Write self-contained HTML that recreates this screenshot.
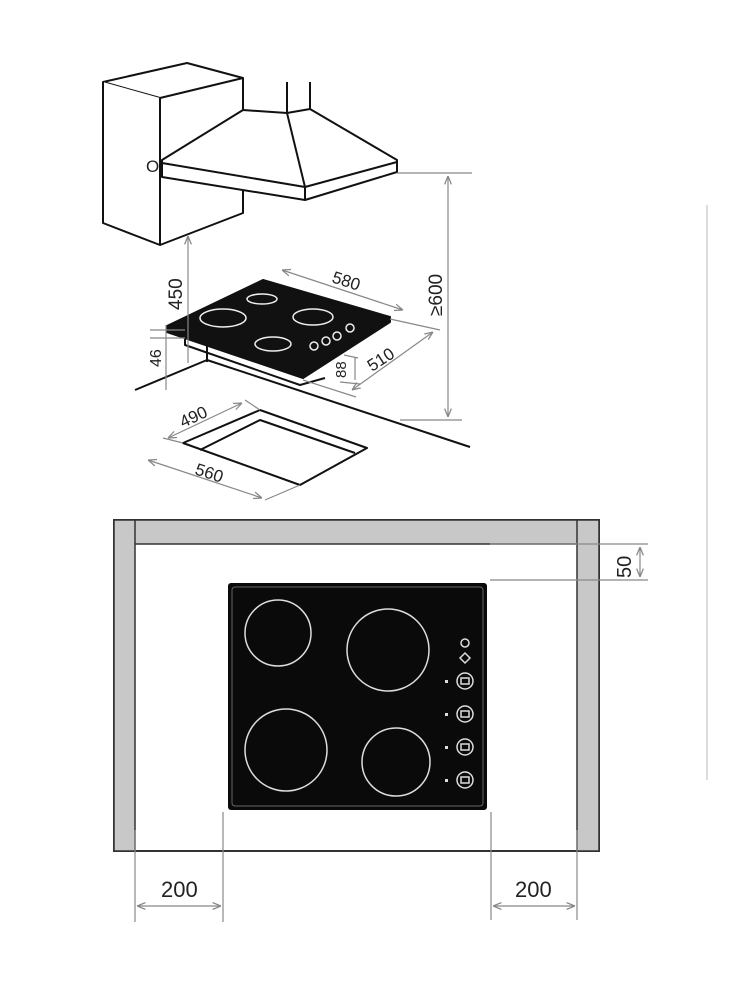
<!DOCTYPE html>
<html><head><style>html,body{margin:0;padding:0;background:#fff}svg{display:block}text{font-family:"Liberation Sans",sans-serif;fill:#222}</style></head>
<body>
<svg width="750" height="1000" viewBox="0 0 750 1000" xmlns="http://www.w3.org/2000/svg">
<defs>
<marker id="a" viewBox="0 0 10 10" refX="10" refY="5" markerWidth="7" markerHeight="7" orient="auto-start-reverse"><path d="M0,1 L10,5 L0,9" fill="none" stroke="#888" stroke-width="1.5"/></marker>
</defs>
<g fill="none" stroke="#111" stroke-width="2" stroke-linejoin="round">
<path d="M103,82 L187,63 L243,78 L160,98 Z" fill="#fff"/>
<path d="M103,82 L103,223 L160,245 L160,98" fill="#fff"/>
<path d="M243,78 L243,110 M243,190 L243,213 L160,245"/>
<path d="M162,160 L243,110 L287,113 L310,109 L397,160 L397,172 L305,200 L162,177 Z" fill="#fff"/>
<path d="M162,163 L305,187 L397,162 M305,187 L305,200 M287,113 L305,187 M287,82 L287,113 M310,82 L310,109"/>
<path d="M135,390 L207,360 L470,447"/>
<path d="M185,335 L185,345 L300,385 L325,378 M207,345 L207,362"/>
<path d="M167,326 L263,280 L390,317 L303,372 Z" fill="#111"/>
<path d="M167,326 L167,332 L303,378 L390,322 L390,317" fill="#111"/>
<path d="M183,443 L260,410 L367,448 L300,485 Z"/>
<path d="M200,450 L260,420 L355,453"/>
</g>
<g fill="none" stroke="#eee" stroke-width="1.5">
<ellipse cx="223" cy="318" rx="23" ry="9"/>
<ellipse cx="262" cy="299" rx="15" ry="5"/>
<ellipse cx="313" cy="317" rx="20" ry="8"/>
<ellipse cx="273" cy="344" rx="18" ry="7"/>
<circle cx="314" cy="346" r="4"/><circle cx="326" cy="341" r="4"/><circle cx="337" cy="336" r="4"/><circle cx="350" cy="328" r="4"/>
</g>
<text x="146" y="172" font-size="17">O</text>
<g stroke="#888" stroke-width="1.2" fill="none">
<path d="M397,173 L472,173 M400,420 L462,420"/>
<path d="M448,176 L448,417" marker-start="url(#a)" marker-end="url(#a)"/>
<path d="M188,236 L188,363" marker-start="url(#a)"/>
<path d="M282,270 L403,310" marker-start="url(#a)" marker-end="url(#a)"/>
<path d="M352,390 L433,332" marker-start="url(#a)" marker-end="url(#a)"/>
<path d="M390,319 L440,330 M303,380 L356,397"/>
<path d="M344,355 L358,358 M355,358 L355,380 M340,382 L360,384"/>
<path d="M150,330 L185,330 M150,338 L185,338 M166,325 L166,390"/>
<path d="M168,438 L242,403" marker-start="url(#a)" marker-end="url(#a)"/>
<path d="M148,460 L262,498" marker-start="url(#a)" marker-end="url(#a)"/>
<path d="M183,443 L163,438 M300,485 L265,500 M260,410 L245,400"/>
</g>
<text font-size="19" transform="translate(182,310) rotate(-90)">450</text>
<text font-size="19" transform="translate(442,316) rotate(-90)">≥600</text>
<text font-size="17" transform="translate(331,282) rotate(18)">580</text>
<text font-size="17" transform="translate(372,372) rotate(-33)">510</text>
<text font-size="15" transform="translate(346,378) rotate(-90)">88</text>
<text font-size="16" transform="translate(161,367) rotate(-90)">46</text>
<text font-size="17" transform="translate(183,428) rotate(-25)">490</text>
<text font-size="17" transform="translate(194,474) rotate(18)">560</text>
<path d="M707,205 L707,780" stroke="#bbb" stroke-width="1"/>
<rect x="114" y="520" width="485" height="331" fill="#fff" stroke="#333" stroke-width="2"/>
<rect x="114" y="520" width="485" height="24" fill="#c8c8c8" stroke="#333" stroke-width="1.5"/>
<rect x="114" y="520" width="21" height="331" fill="#c8c8c8" stroke="#333" stroke-width="1.5"/>
<rect x="577" y="520" width="22" height="331" fill="#c8c8c8" stroke="#333" stroke-width="1.5"/>
<rect x="228" y="583" width="259" height="227" rx="3" fill="#0a0a0a"/>
<rect x="232" y="587" width="251" height="219" rx="3" fill="none" stroke="#666" stroke-width="1"/>
<g fill="none" stroke="#ddd" stroke-width="1.5">
<circle cx="278" cy="633" r="33"/>
<circle cx="388" cy="650" r="41"/>
<circle cx="286" cy="750" r="41"/>
<circle cx="396" cy="762" r="34"/>
<circle cx="465" cy="643" r="4"/>
<path d="M465,653 L470,658 L465,663 L460,658 Z"/>
<circle cx="465" cy="681" r="8"/><circle cx="465" cy="714" r="8"/><circle cx="465" cy="747" r="8"/><circle cx="465" cy="780" r="8"/>
<rect x="461" y="678" width="8" height="6"/><rect x="461" y="711" width="8" height="6"/><rect x="461" y="744" width="8" height="6"/><rect x="461" y="777" width="8" height="6"/>
</g>
<g fill="#ddd"><rect x="445" y="680" width="3" height="3"/><rect x="445" y="713" width="3" height="3"/><rect x="445" y="746" width="3" height="3"/><rect x="445" y="779" width="3" height="3"/></g>
<g stroke="#888" stroke-width="1.2" fill="none">
<path d="M490,544 L648,544 M490,580 L648,580"/>
<path d="M640,547 L640,577" marker-start="url(#a)" marker-end="url(#a)"/>
<path d="M135,830 L135,922 M223,812 L223,922 M491,812 L491,920 M577,830 L577,920"/>
<path d="M137,906 L221,906" marker-start="url(#a)" marker-end="url(#a)"/>
<path d="M493,906 L575,906" marker-start="url(#a)" marker-end="url(#a)"/>
</g>
<text font-size="20" transform="translate(631,578) rotate(-90)">50</text>
<text x="161" y="897" font-size="22">200</text>
<text x="515" y="897" font-size="22">200</text>
</svg>
</body></html>
